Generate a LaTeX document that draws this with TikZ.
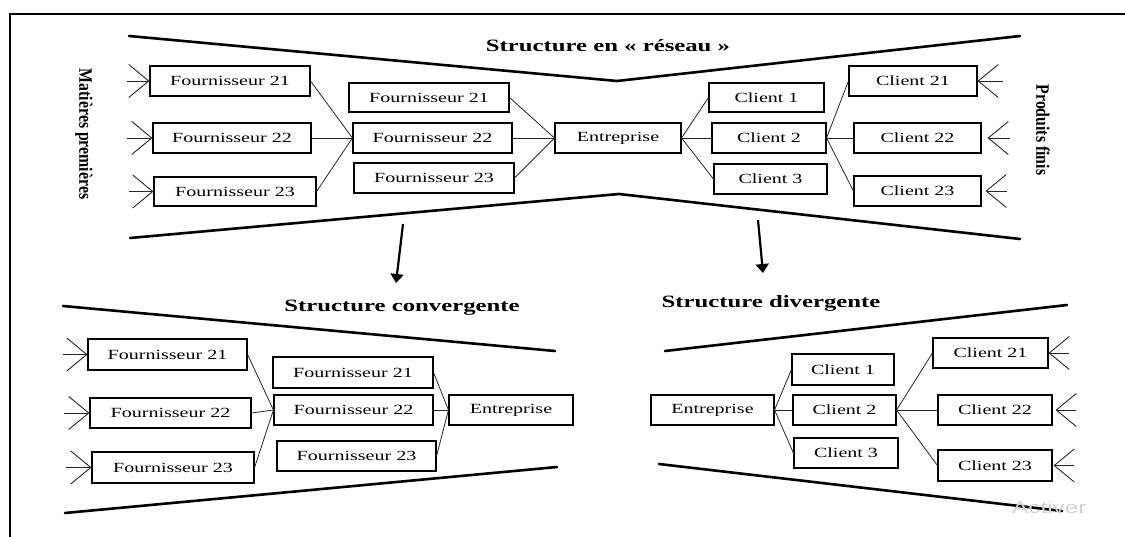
\documentclass[tikz,border=0pt]{standalone}
\usepackage{fontspec}
\usepackage{graphicx}
\setmainfont{Liberation Serif}[FakeStretch=1.43]
\newfontfamily\sidefont{Liberation Serif}
\newfontfamily\notefont{Liberation Sans}[FakeStretch=1.43]
\usetikzlibrary{arrows.meta}

\tikzset{
  box/.style={draw, line width=1.1pt, inner sep=0pt, minimum height=30pt,
    font=\fontsize{14}{16}\selectfont},
  link/.style={line width=0.8pt, black!85},
  funnel/.style={line width=2.6pt, line cap=round, line join=round},
  feed/.style={line width=0.9pt, black!85, -{Straight Barb[length=20pt,width=33pt]}},
  title/.style={anchor=base, font=\fontsize{17.3}{20}\selectfont\bfseries},
  sidelabel/.style={rotate=-90, font=\sidefont\bfseries\fontsize{15.8}{18}\selectfont},
  down/.style={line width=2.2pt, -{Triangle[length=9pt,width=13pt]}},
  mark note/.style={anchor=base west, text=gray!35, inner sep=0pt,
    font=\notefont\fontsize{17}{19}\selectfont},
}

\begin{document}
\begin{tikzpicture}[x=1pt, y=-1pt]
\useasboundingbox (0,0) rectangle (1125,537);
\clip (0,0) rectangle (1125,537);

% page frame
\draw[line width=1.4pt] (10,537) -- (10,14) -- (1125,14);

% ---------------- network structure ----------------
\draw[funnel] (129,36) -- (617,81) -- (1020,36);
\draw[funnel] (130,238) -- (619,194) -- (1020,239);
\node[title] (tt) at (608,52) {Structure en «~réseau~»};

\node[sidelabel] (mp) at (84,134) {\scalebox{1}[1.2]{Matières premières}};
\node[sidelabel] (pf) at (1043,130) {\scalebox{1}[1.2]{Produits finis}};

% first tier of suppliers
\node[box, minimum width=160pt] (tf21a) at (230,81) {Fournisseur 21};
\node[box, minimum width=158pt] (tf22a) at (232,138) {Fournisseur 22};
\node[box, minimum width=162pt, minimum height=29pt] (tf23a) at (235,191.5) {Fournisseur 23};
% second tier of suppliers
\node[box, minimum width=160pt, minimum height=29pt] (tf21b) at (429,97.5) {Fournisseur 21};
\node[box, minimum width=159pt] (tf22b) at (432.5,138) {Fournisseur 22};
\node[box, minimum width=160pt] (tf23b) at (434,178) {Fournisseur 23};
% focal firm
\node[box, minimum width=126pt] (tent) at (618,138) {Entreprise};
% first tier of customers
\node[box, minimum width=115pt, minimum height=29pt] (tc1) at (766.5,97.5) {Client 1};
\node[box, minimum width=114pt] (tc2) at (769,138) {Client 2};
\node[box, minimum width=113pt] (tc3) at (770.5,179) {Client 3};
% second tier of customers
\node[box, minimum width=128pt] (tc21) at (913,81) {Client 21};
\node[box, minimum width=127pt] (tc22) at (917.5,138) {Client 22};
\node[box, minimum width=127pt] (tc23) at (917.5,191) {Client 23};

\foreach \s in {tf21a,tf22a,tf23a} \draw[link] (\s.east) -- (tf22b.west);
\foreach \s in {tf21b,tf22b,tf23b} \draw[link] (\s.east) -- (tent.west);
\foreach \s in {tc1,tc2,tc3} \draw[link] (tent.east) -- (\s.west);
\foreach \s in {tc21,tc22,tc23} \draw[link] (tc2.east) -- (\s.west);

\coordinate (tin1) at (127,81);
\coordinate (tin2) at (127,138);
\coordinate (tin3) at (129,191.5);
\draw[feed] (tin1) -- (tf21a.west);
\draw[feed] (tin2) -- (tf22a.west);
\draw[feed] (tin3) -- (tf23a.west);
\coordinate (tout1) at (1003,81);
\coordinate (tout2) at (1010,138);
\coordinate (tout3) at (1007,191);
\draw[feed] (tout1) -- (tc21.east);
\draw[feed] (tout2) -- ([xshift=6pt]tc22.east);
\draw[feed] (tout3) -- ([xshift=4pt]tc23.east);

% split into the two partial views
\coordinate (dl1) at (403,224);
\coordinate (dl2) at (396,283);
\coordinate (dr1) at (758,220);
\coordinate (dr2) at (763,273);
\draw[down] (dl1) -- (dl2);
\draw[down] (dr1) -- (dr2);

% ---------------- converging structure ----------------
\draw[funnel] (63,306) -- (555,351);
\draw[funnel] (65,513) -- (557,467);
\node[title] (bt1) at (402,312) {Structure convergente};

\node[box, minimum width=159pt, minimum height=31pt] (bf21a) at (167.5,354.5) {Fournisseur 21};
\node[box, minimum width=161pt] (bf22a) at (170.5,413) {Fournisseur 22};
\node[box, minimum width=162pt, minimum height=31pt] (bf23a) at (173,467.5) {Fournisseur 23};
\node[box, minimum width=160pt, minimum height=31pt] (bf21b) at (353,372.5) {Fournisseur 21};
\node[box, minimum width=159pt] (bf22b) at (353.5,410) {Fournisseur 22};
\node[box, minimum width=159pt] (bf23b) at (356.5,456) {Fournisseur 23};
\node[box, minimum width=124pt] (bent1) at (511,410) {Entreprise};

\foreach \s in {bf21a,bf22a,bf23a} \draw[link] (\s.east) -- (bf22b.west);
\foreach \s in {bf21b,bf22b,bf23b} \draw[link] (\s.east) -- (bent1.west);

\coordinate (bin1) at (63,354.5);
\coordinate (bin2) at (64,413);
\coordinate (bin3) at (66,467.5);
\draw[feed] (bin1) -- (bf21a.west);
\draw[feed] (bin2) -- (bf22a.west);
\draw[feed] (bin3) -- (bf23a.west);

% ---------------- diverging structure ----------------
\draw[funnel] (665,351) -- (1067,305);
\draw[funnel] (659,464) -- (1062,511);
\node[title] (bt2) at (771,308) {Structure divergente};

\node[box, minimum width=123pt] (bent2) at (712.5,410) {Entreprise};
\node[box, minimum width=102pt, minimum height=31pt] (bc1) at (843,369.5) {Client 1};
\node[box, minimum width=103pt] (bc2) at (844.5,410) {Client 2};
\node[box, minimum width=104pt] (bc3) at (846,453) {Client 3};
\node[box, minimum width=115pt] (bc21) at (990.5,353) {Client 21};
\node[box, minimum width=114pt] (bc22) at (995,410) {Client 22};
\node[box, minimum width=114pt, minimum height=31pt] (bc23) at (995,465.5) {Client 23};

\foreach \s in {bc1,bc2,bc3} \draw[link] (bent2.east) -- (\s.west);
\foreach \s in {bc21,bc22,bc23} \draw[link] (bc2.east) -- (\s.west);

\coordinate (bout1) at (1069,353);
\coordinate (bout2) at (1076,410);
\coordinate (bout3) at (1074,465.5);
\draw[feed] (bout1) -- (bc21.east);
\draw[feed] (bout2) -- ([xshift=3pt]bc22.east);
\draw[feed] (bout3) -- ([xshift=1pt]bc23.east);

\node[mark note] (note) at (1012,513) {Activer};
\end{tikzpicture}
\end{document}
